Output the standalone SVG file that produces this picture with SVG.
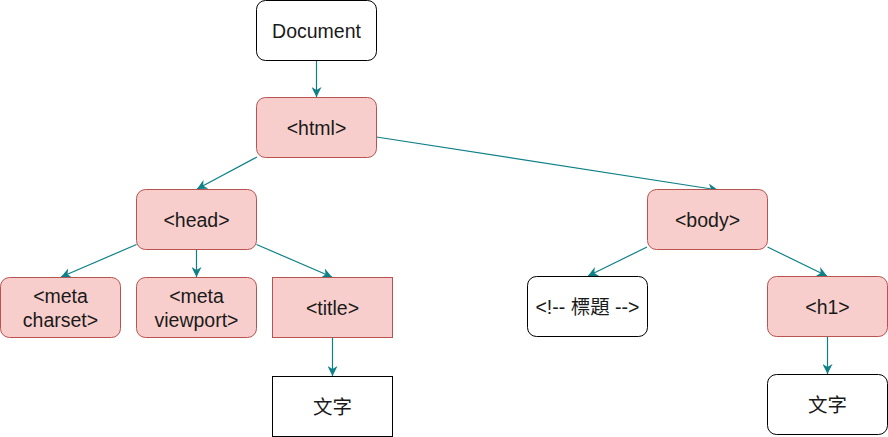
<svg xmlns="http://www.w3.org/2000/svg" width="888" height="437" viewBox="0 0 888 437">
<style>
.n{fill:#ffffff;stroke:#000000;stroke-width:1}
.p{fill:#f8cecc;stroke:#b85450;stroke-width:1}
text{font-family:"Liberation Sans",Arial,"Noto Sans CJK TC",sans-serif;font-size:19.5px;fill:#1a1a1a;text-anchor:middle}
.e{stroke:#0e8088;stroke-width:1.2;fill:none;marker-end:url(#a)}
</style>
<defs>
<marker id="a" viewBox="0 0 10 10" refX="10" refY="5" markerWidth="10" markerHeight="10" orient="auto" markerUnits="userSpaceOnUse">
<path d="M0,0 L10,5 L0,10 L3,5 Z" fill="#0e8088"/>
</marker>
</defs>
<rect width="888" height="437" fill="#ffffff"/>
<g id="edges">
<line class="e" x1="316.5" y1="61" x2="316.5" y2="97"/>
<line class="e" x1="257" y1="157" x2="197" y2="189"/>
<line class="e" x1="376.5" y1="137" x2="718" y2="190"/>
<line class="e" x1="136.5" y1="244.5" x2="61" y2="277"/>
<line class="e" x1="196.5" y1="249.5" x2="196.5" y2="277"/>
<line class="e" x1="256.5" y1="244.5" x2="332" y2="277"/>
<line class="e" x1="332.5" y1="337.5" x2="332.5" y2="376"/>
<line class="e" x1="647" y1="247" x2="588" y2="276"/>
<line class="e" x1="767.5" y1="247" x2="827" y2="276"/>
<line class="e" x1="827.5" y1="336.5" x2="827.5" y2="374"/>
</g>
<g id="document"><rect class="n" x="256.5" y="0.5" width="120" height="60" rx="9"/><text x="316.5" y="38">Document</text></g>
<g id="html"><rect class="p" x="256.5" y="97.5" width="120" height="60" rx="9"/><text x="316.5" y="135">&lt;html&gt;</text></g>
<g id="head"><rect class="p" x="136.5" y="189.5" width="120" height="60" rx="9"/><text x="196.5" y="227">&lt;head&gt;</text></g>
<g id="body"><rect class="p" x="647.5" y="189.5" width="120" height="60" rx="9"/><text x="707.5" y="227">&lt;body&gt;</text></g>
<g id="meta-charset"><rect class="p" x="0.5" y="277.5" width="120" height="60" rx="9"/><text x="60.5" y="303">&lt;meta</text><text x="60.5" y="327">charset&gt;</text></g>
<g id="meta-viewport"><rect class="p" x="136.5" y="277.5" width="120" height="60" rx="9"/><text x="196.5" y="303">&lt;meta</text><text x="196.5" y="327">viewport&gt;</text></g>
<g id="title"><rect class="p" x="272.5" y="277.5" width="120" height="60"/><text x="332.5" y="315">&lt;title&gt;</text></g>
<g id="title-text"><rect class="n" x="272.5" y="376.5" width="120" height="60"/><text x="332.5" y="414">文字</text></g>
<g id="comment"><rect class="n" x="527.5" y="276.5" width="120" height="60" rx="9"/><text x="587.5" y="314">&lt;!-- 標題 --&gt;</text></g>
<g id="h1"><rect class="p" x="767.5" y="276.5" width="120" height="60" rx="9"/><text x="827.5" y="314">&lt;h1&gt;</text></g>
<g id="h1-text"><rect class="n" x="767.5" y="374.5" width="120" height="60" rx="9"/><text x="827.5" y="412">文字</text></g>
</svg>
